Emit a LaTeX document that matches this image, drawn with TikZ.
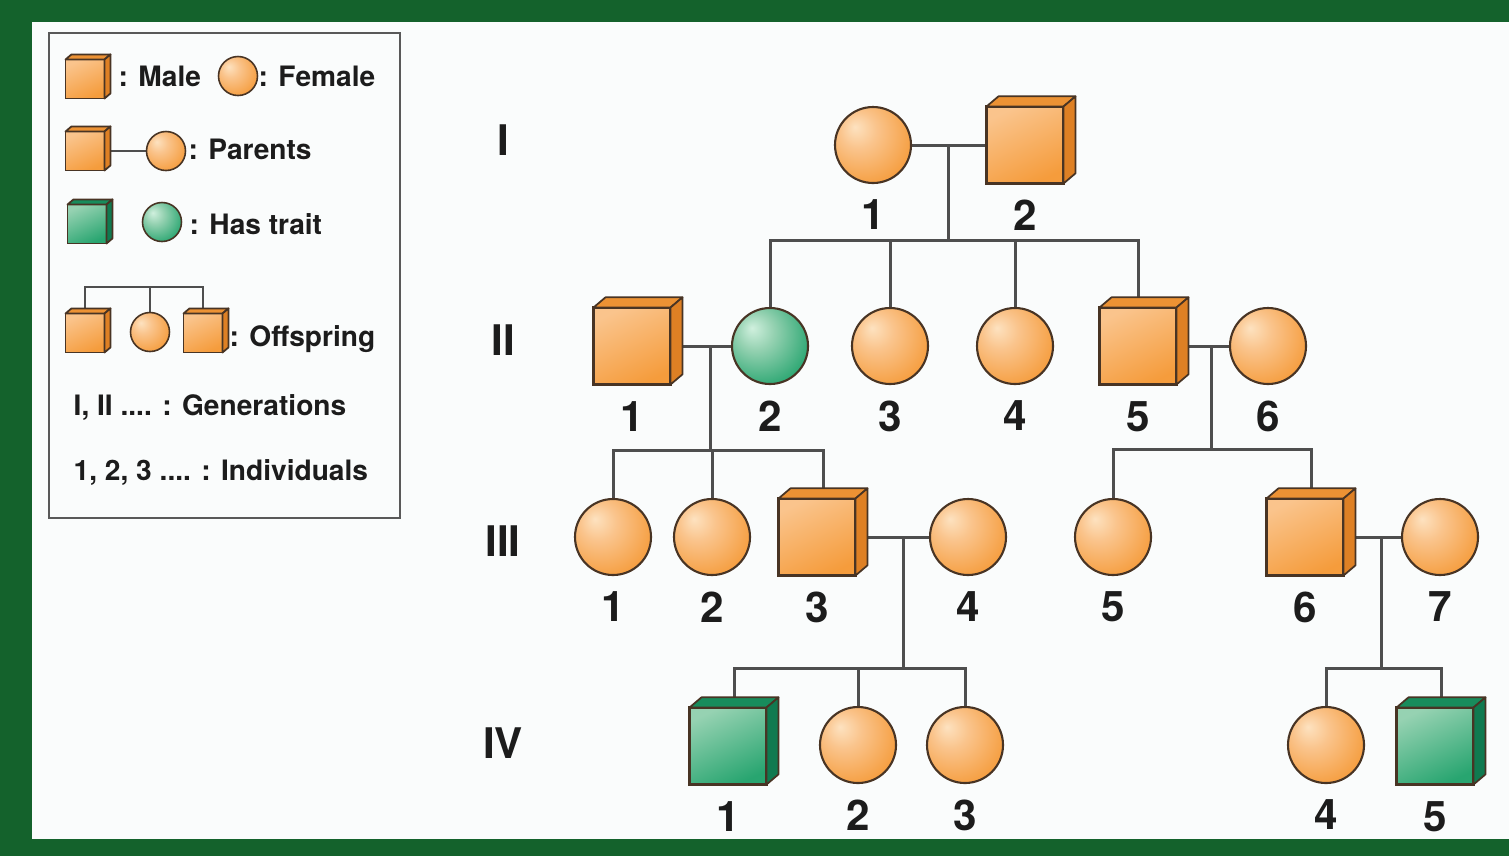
\documentclass[tikz,border=0pt]{standalone}
\usepackage{fontspec}
\setmainfont{TeX Gyre Heros}
\usetikzlibrary{positioning, calc, backgrounds}

\definecolor{orangeHi}{RGB}{253,226,192}
\definecolor{orangeLt}{RGB}{250,196,140}
\definecolor{orangeMain}{RGB}{245,156,60}
\definecolor{orangeDk}{RGB}{232,130,30}
\definecolor{orangeTop}{RGB}{236,146,52}
\definecolor{orangeSide}{RGB}{222,128,36}
\definecolor{greenHi}{RGB}{208,240,222}
\definecolor{greenLt}{RGB}{150,210,178}
\definecolor{greenMain}{RGB}{40,165,112}
\definecolor{greenDk}{RGB}{12,128,82}
\definecolor{greenTop}{RGB}{24,140,92}
\definecolor{greenSide}{RGB}{16,122,80}
\definecolor{rim}{RGB}{72,52,36}
\definecolor{linkgray}{RGB}{78,78,78}
\definecolor{keytext}{RGB}{28,28,28}
\definecolor{framegreen}{RGB}{20,98,44}
\definecolor{paper}{RGB}{250,252,252}

\pgfdeclareradialshading{orangeball}{\pgfpoint{-12bp}{12bp}}{%
  color(0bp)=(orangeHi); color(12bp)=(orangeLt);
  color(34bp)=(orangeMain); color(64bp)=(orangeDk)}
\pgfdeclareradialshading{greenball}{\pgfpoint{-12bp}{12bp}}{%
  color(0bp)=(greenHi); color(12bp)=(greenLt);
  color(34bp)=(greenMain); color(64bp)=(greenDk)}

% top and side of a box: node, depth, colour
\newcommand{\boxfaces}[3]{%
  \filldraw[face, fill=#3Top] (#1.north west)
    -- ([shift={(#2,-0.85*#2)}]#1.north west)
    -- ([shift={(#2,-0.85*#2)}]#1.north east) -- (#1.north east) -- cycle;
  \filldraw[face, fill=#3Side] (#1.north east)
    -- ([shift={(#2,-0.85*#2)}]#1.north east)
    -- ([shift={(#2,-0.85*#2)}]#1.south east) -- (#1.south east) -- cycle;
}

\tikzset{
  male/.style={rectangle, draw=rim, line width=0.6pt, minimum size=7.7mm,
    inner sep=0pt, outer sep=0pt, top color=#1Lt, bottom color=#1Main,
    shading angle=25},
  male/.default=orange,
  female/.style={circle, draw=rim, line width=0.6pt, minimum size=7.6mm,
    inner sep=0pt, outer sep=0pt, shade, shading=#1ball},
  female/.default=orange,
  small/.style={minimum size=3.9mm, line width=0.45pt},
  face/.style={draw=rim, line width=0.5pt, line join=round},
  link/.style={draw=linkgray, line width=0.85pt},
  gen/.style={font=\fontsize{12}{12}\selectfont\bfseries, text=keytext,
    inner sep=0pt},
  key/.style={font=\fontsize{8}{8}\selectfont\bfseries, text=keytext,
    inner sep=0pt, anchor=base west},
  every label/.style={font=\fontsize{12}{12}\selectfont\bfseries,
    text=keytext, inner sep=0pt},
}

\begin{document}
\begin{tikzpicture}[x=0.1mm, y=-0.1mm, label distance=1.6mm]
  \useasboundingbox (0,0) rectangle (1509,856);

  % legend
  \node[male, small] (kmale) at (85,79) {};
  \node[key] (kmalet) at (118,86) {: Male};
  \node[female, small] (kfemale) at (238,76) {};
  \node[key] (kfemalet) at (258,86) {: Female};
  \node[male, small] (kpm) at (85,151) {};
  \node[female, small] (kpf) at (166,151) {};
  \node[key] (kparentst) at (188,159) {: Parents};
  \node[male=green, small] (ktm) at (87,224) {};
  \node[female=green, small] (ktf) at (162,222) {};
  \node[key] (ktraitt) at (189,234) {: Has trait};
  \node[male, small] (ko1) at (85,333) {};
  \node[female, small] (ko2) at (150,332) {};
  \node[male, small] (ko3) at (203,333) {};
  \node[key] (koffst) at (229,346) {: Offspring};
  \node[key] (kgent) at (73,415) {I, II .... : Generations};
  \node[key] (kindt) at (73,480) {1, 2, 3 .... : Individuals};

  % generations
  \node[gen] (g1) at (503,140) {I};
  \node[gen] (g2) at (503,340) {II};
  \node[gen] (g3) at (503,541) {III};
  \node[gen] (g4) at (503,743) {IV};

  % generation I
  \node[female, label=below:1] (I1) at (873,145) {};
  \node[male, label=below:2] (I2) at (1025,145) {};

  % generation II
  \node[male, label=below:1] (II1) at (632,346) {};
  \node[female=green, label=below:2] (II2) at (770,346) {};
  \node[female, label=below:3] (II3) at (890,346) {};
  \node[female, label=below:4] (II4) at (1015,346) {};
  \node[male, label=below:5] (II5) at (1138,346) {};
  \node[female, label=below:6] (II6) at (1268,346) {};

  % generation III
  \node[female, label=below:1] (III1) at (613,537) {};
  \node[female, label=below:2] (III2) at (712,537) {};
  \node[male, label=below:3] (III3) at (817,537) {};
  \node[female, label=below:4] (III4) at (968,537) {};
  \node[female, label=below:5] (III5) at (1113,537) {};
  \node[male, label=below:6] (III6) at (1305,537) {};
  \node[female, label=below:7] (III7) at (1440,537) {};

  % generation IV
  \node[male=green, label=below:1] (IV1) at (728,746) {};
  \node[female, label=below:2] (IV2) at (858,745) {};
  \node[female, label=below:3] (IV3) at (965,745) {};
  \node[female, label=below:4] (IV4) at (1326,745) {};
  \node[male=green, label=below:5] (IV5) at (1435,746) {};

  \begin{scope}[on background layer]
    % frame
    \fill[framegreen] (0,0) rectangle (1509,856);
    \fill[paper] (32,22) rectangle (1509,839);
    \draw[draw=black!65, line width=0.7pt] (49,33) rectangle (400,518);

    % legend lines
    \draw[link, line width=0.6pt] (kpm) -- (kpf);
    \coordinate (kb) at (150,287);
    \draw[link, line width=0.6pt] (ko1.north) |- (kb) -| (ko3.north);
    \draw[link, line width=0.6pt] (ko2) -- (ko2 |- kb);

    % couples and their children
    \coordinate (c1) at ($(I1.east)!0.5!(I2.west)$);
    \coordinate (c2) at ($(II1.east)!0.65!(II2.west)$);
    \coordinate (c3) at ($(II5.east)!0.65!(II6.west)$);
    \coordinate (c4) at ($(III3.east)!0.65!(III4.west)$);
    \coordinate (c5) at ($(III6.east)!0.65!(III7.west)$);

    \draw[link] (I1) -- (I2);
    \draw[link] (c1) -- (c1 |- 0,240) coordinate (d1);
    \draw[link] (II2.north) |- (d1) -| (II5.north);
    \draw[link] (II3) -- (II3 |- d1);
    \draw[link] (II4) -- (II4 |- d1);

    \draw[link] (II1) -- (II2);
    \draw[link] (c2) -- (c2 |- 0,450) coordinate (d2);
    \draw[link] (III1.north) |- (d2) -| ([xshift=0.6mm]III3.north);
    \draw[link] (III2) -- (III2 |- d2);

    \draw[link] (II5) -- (II6);
    \draw[link] (c3) -- (c3 |- 0,449) coordinate (d3);
    \draw[link] (III5.north) |- (d3) -| ([xshift=0.6mm]III6.north);

    \draw[link] (III3) -- (III4);
    \draw[link] (c4) -- (c4 |- 0,668) coordinate (d4);
    \draw[link] ([xshift=0.6mm]IV1.north) |- (d4) -| (IV3.north);
    \draw[link] (IV2) -- (IV2 |- d4);

    \draw[link] (III6) -- (III7);
    \draw[link] (c5) -- (c5 |- 0,668) coordinate (d5);
    \draw[link] (IV4.north) |- (d5) -| ([xshift=0.6mm]IV5.north);
  \end{scope}

  % box tops and sides
  \foreach \n in {I2, II1, II5, III3, III6} {\boxfaces{\n}{12}{orange}}
  \foreach \n in {IV1, IV5} {\boxfaces{\n}{12}{green}}
  \foreach \n in {kmale, kpm, ko1, ko3} {\boxfaces{\n}{6}{orange}}
  \boxfaces{ktm}{6}{green}
\end{tikzpicture}
\end{document}
